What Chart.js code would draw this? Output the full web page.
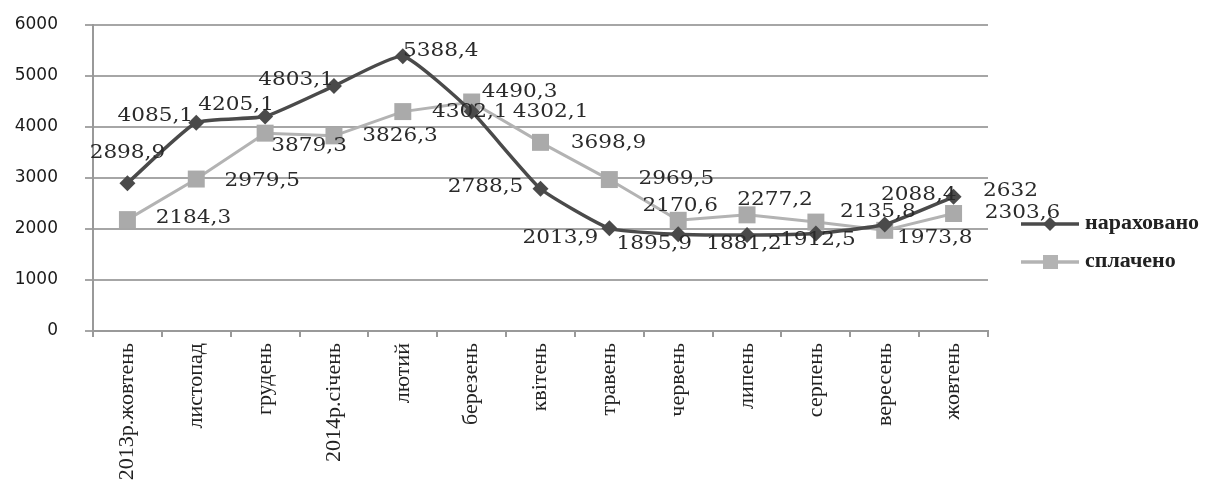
<!DOCTYPE html>
<html>
<head>
<meta charset="utf-8">
<script src="https://cdn.jsdelivr.net/npm/chart.js@4.4.1/dist/chart.umd.min.js"></script>
<style>
  html, body { margin: 0; padding: 0; background: #fff; }
  #wrap { width: 1221px; height: 490px; position: relative; }
</style>
</head>
<body>
<div id="wrap"><canvas id="chart"></canvas></div>
<script>
// -------------------------
// Data
// -------------------------
const MONTHS = ["2013р.жовтень", "листопад", "грудень", "2014р.січень", "лютий", "березень",
  "квітень", "травень", "червень", "липень", "серпень", "вересень", "жовтень"];
const ACCRUED = [2898.9, 4085.1, 4205.1, 4803.1, 5388.4, 4302.1, 2788.5, 2013.9, 1895.9, 1881.2, 1912.5, 2088.4, 2632];
const PAID = [2184.3, 2979.5, 3879.3, 3826.3, 4302.1, 4490.3, 3698.9, 2969.5, 2170.6, 2277.2, 2135.8, 1973.8, 2303.6];
const SERIES_NAMES = ["нараховано", "сплачено"];
const Y_MIN = 0, Y_MAX = 6000, Y_STEP = 1000;

// label placement (px from point) - styling only
const ACCRUED_LABEL_OFFSETS = [[0,-30],[-41,-6],[-29,-11],[-38,-6],[38,-5],[79,1],[-55,-1],[-49,10],[-24,10],[-3,9],[2,7],[34,-29],[57,-5]];
const PAID_LABEL_OFFSETS = [[66,-1],[66,2],[44,13],[66,0],[67,1],[48,-10],[68,1],[67,0],[2,-14],[28,-15],[62,-10],[50,8],[69,0]];

const DARK = "#4a4a4a";
const LIGHT = "#b3b3b3";

function fmt(v) {
  return String(v).replace(".", ",");
}

// -------------------------
// Plugins
// -------------------------
const valueLabels = {
  id: "valueLabels",
  afterDatasetsDraw(chart) {
    const ctx = chart.ctx;
    const offsets = [ACCRUED_LABEL_OFFSETS, PAID_LABEL_OFFSETS];
    ctx.save();
    ctx.font = "18px 'DejaVu Serif'";
    ctx.fillStyle = "#2a2a2a";
    ctx.textAlign = "center";
    ctx.textBaseline = "middle";
    chart.data.datasets.forEach((ds, i) => {
      const meta = chart.getDatasetMeta(i);
      meta.data.forEach((pt, j) => {
        const [dx, dy] = offsets[i][j];
        ctx.save();
        ctx.translate(pt.x + dx, pt.y + dy);
        ctx.scale(1.2, 1);
        ctx.fillText(fmt(ds.data[j]), 0, 0);
        ctx.restore();
      });
    });
    ctx.restore();
  }
};

const sideLegend = {
  id: "sideLegend",
  afterDraw(chart) {
    const ctx = chart.ctx;
    const items = [
      { name: SERIES_NAMES[0], color: DARK, y: 224, shape: "diamond" },
      { name: SERIES_NAMES[1], color: LIGHT, y: 262, shape: "square" }
    ];
    ctx.save();
    items.forEach(it => {
      ctx.strokeStyle = it.color;
      ctx.lineWidth = 3.5;
      ctx.beginPath();
      ctx.moveTo(1021, it.y);
      ctx.lineTo(1079, it.y);
      ctx.stroke();
      ctx.fillStyle = it.color;
      ctx.beginPath();
      if (it.shape === "diamond") {
        ctx.moveTo(1050, it.y - 7);
        ctx.lineTo(1057, it.y);
        ctx.lineTo(1050, it.y + 7);
        ctx.lineTo(1043, it.y);
        ctx.closePath();
      } else {
        ctx.rect(1043, it.y - 7, 15, 14);
      }
      ctx.fill();
      ctx.save();
      ctx.translate(1085, it.y);
      ctx.scale(1.1, 1);
      ctx.font = "bold 20px 'Liberation Serif'";
      ctx.fillStyle = "#222";
      ctx.textAlign = "left";
      ctx.textBaseline = "middle";
      ctx.fillText(it.name, 0, 0);
      ctx.restore();
    });
    ctx.restore();
  }
};

// -------------------------
// Chart
// -------------------------
new Chart(document.getElementById("chart"), {
  type: "line",
  data: {
    labels: MONTHS,
    datasets: [
      {
        label: SERIES_NAMES[0],
        data: ACCRUED,
        borderColor: DARK,
        backgroundColor: DARK,
        borderWidth: 3.5,
        tension: 0.15,
        pointStyle: "rectRot",
        pointRadius: 8,
        pointBorderWidth: 0
      },
      {
        label: SERIES_NAMES[1],
        data: PAID,
        borderColor: LIGHT,
        backgroundColor: "#aaaaaa",
        borderWidth: 3,
        tension: 0,
        pointStyle: "rect",
        pointRadius: 12,
        pointBorderWidth: 0
      }
    ]
  },
  options: {
    responsive: true,
    maintainAspectRatio: false,
    animation: false,
    layout: { padding: { top: 25, right: 233, bottom: 0, left: 0 } },
    plugins: {
      legend: { display: false },
      tooltip: { enabled: false }
    },
    scales: {
      x: {
        offset: true,
        grid: { display: true, drawOnChartArea: false, drawTicks: true, tickLength: 6, color: "#999", lineWidth: 2, offset: true },
        border: { color: "#999", width: 2 },
        ticks: {
          autoSkip: false,
          minRotation: 90,
          maxRotation: 90,
          padding: 6,
          color: "#222",
          font: { family: "'Liberation Serif'", size: 22 }
        },
        afterFit: (s) => { s.height = 159; }
      },
      y: {
        min: Y_MIN,
        max: Y_MAX,
        grid: { color: "#a6a6a6", lineWidth: 2, tickLength: 8 },
        border: { color: "#999", width: 2 },
        ticks: {
          stepSize: Y_STEP,
          padding: 27,
          color: "#1a1a1a",
          font: { family: "'DejaVu Sans'", size: 17 },
          callback: (v) => String(v)
        },
        afterFit: (s) => {
          s.width = 93;
          // tick padding is horizontal only here; don't let it push the top down
          s.paddingTop = 11;
          s.paddingBottom = 11;
        }
      }
    }
  },
  plugins: [valueLabels, sideLegend]
});
</script>
</body>
</html>
